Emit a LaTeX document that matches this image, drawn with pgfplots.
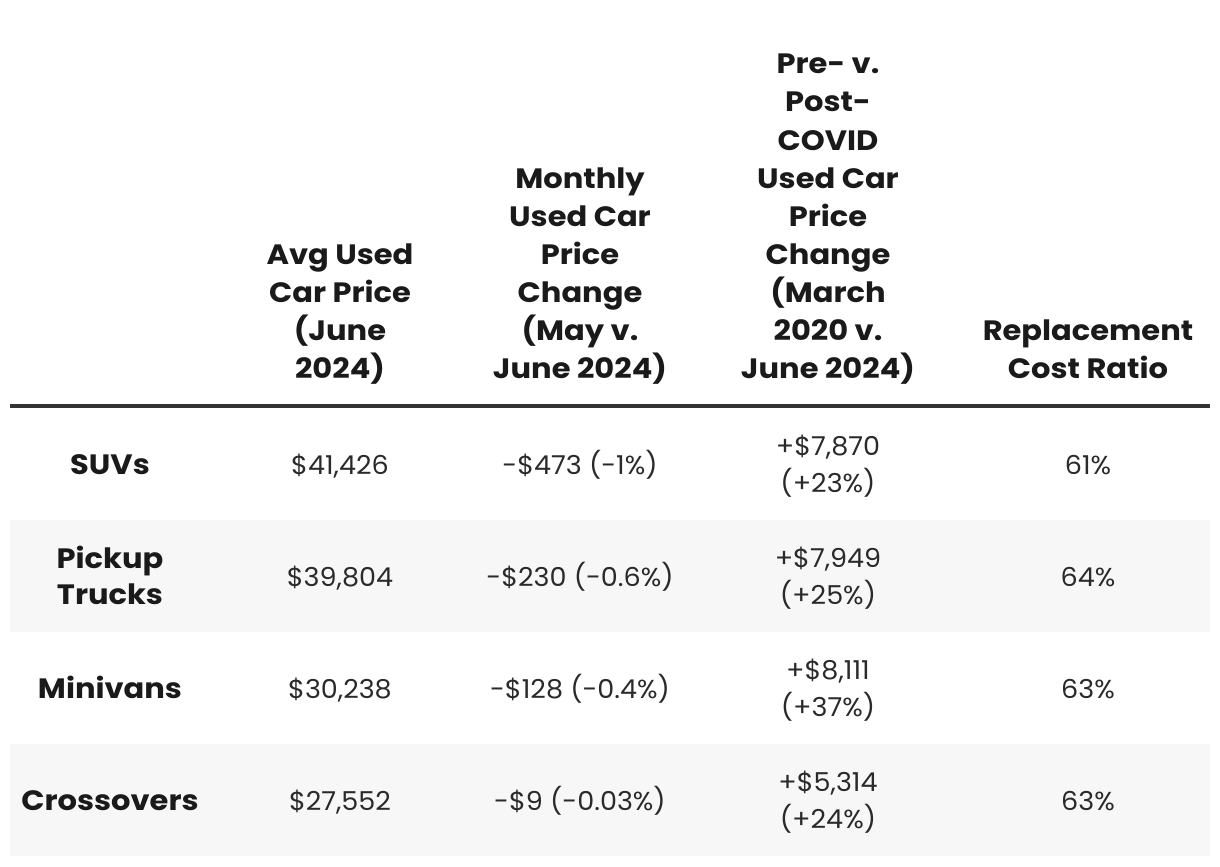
\documentclass[border=0pt]{standalone}
\usepackage{pgfplots}
\pgfplotsset{compat=1.18}
\usepackage{fontspec}
\setmainfont{Poppins}
\newfontfamily\hdrfont{Poppins}[FakeStretch=1.09]
\newfontfamily\bodyfont{Poppins}[FakeStretch=1.04]
\definecolor{hdr}{HTML}{1A1A1A}
\definecolor{bodytxt}{HTML}{2A2A2A}
\definecolor{band}{HTML}{F7F7F7}
\definecolor{rulec}{HTML}{333333}
\pgfplotsset{
  txt/.style={draw=none, mark=none, nodes near coords, point meta=explicit symbolic,
    every node near coord/.append style={anchor=base, inner sep=0pt, #1}},
}
\begin{document}
\begin{tikzpicture}
\begin{axis}[width=1220bp, height=866bp, scale only axis, hide axis,
  xmin=0, xmax=1220, ymin=0, ymax=866, y dir=reverse, clip=false, enlargelimits=false]
\path (rel axis cs:0,0) rectangle (rel axis cs:1,1);
% alternating row bands
\addplot[fill=band, draw=none] coordinates {(10,520) (1210,520) (1210,632) (10,632)} -- cycle;
\addplot[fill=band, draw=none] coordinates {(10,744) (1210,744) (1210,856) (10,856)} -- cycle;
% header rule
\addplot[rulec, line width=3.5bp, mark=none] coordinates {(10,406) (1210,406)};
% header text
\addplot[txt={font=\hdrfont\bfseries\fontsize{28bp}{38bp}\selectfont, text=hdr}] table[x=x, y=y, meta=label, col sep=semicolon] {
x;y;label
340;264;Avg Used
340;302;Car Price
340;340;(June
340;378;2024)
580;188;Monthly
580;226;Used Car
580;264;Price
580;302;Change
580;340;(May v.
580;378;June 2024)
828;74;Pre- v.
828;112;Post-
828;150;COVID
828;188;Used Car
828;226;Price
828;264;Change
828;302;(March
828;340;2020 v.
828;378;June 2024)
1088;340;Replacement
1088;378;Cost Ratio
110;474;SUVs
110;568;Pickup
110;604;Trucks
110;698;Minivans
110;810;Crossovers
};
% body text
\addplot[txt={font=\bodyfont\fontsize{26bp}{36bp}\selectfont, text=bodytxt}] table[x=x, y=y, meta=label, col sep=semicolon] {
x;y;label
340;474;\$41,426
340;586;\$39,804
340;698;\$30,238
340;810;\$27,552
580;474;-\$473 (-1\%)
580;586;-\$230 (-0.6\%)
580;698;-\$128 (-0.4\%)
580;810;-\$9 (-0.03\%)
828;455;+\$7,870
828;492;(+23\%)
828;567;+\$7,949
828;604;(+25\%)
828;679;+\$8,111
828;716;(+37\%)
828;791;+\$5,314
828;828;(+24\%)
1088;474;61\%
1088;586;64\%
1088;698;63\%
1088;810;63\%
};
\end{axis}
\end{tikzpicture}
\end{document}
